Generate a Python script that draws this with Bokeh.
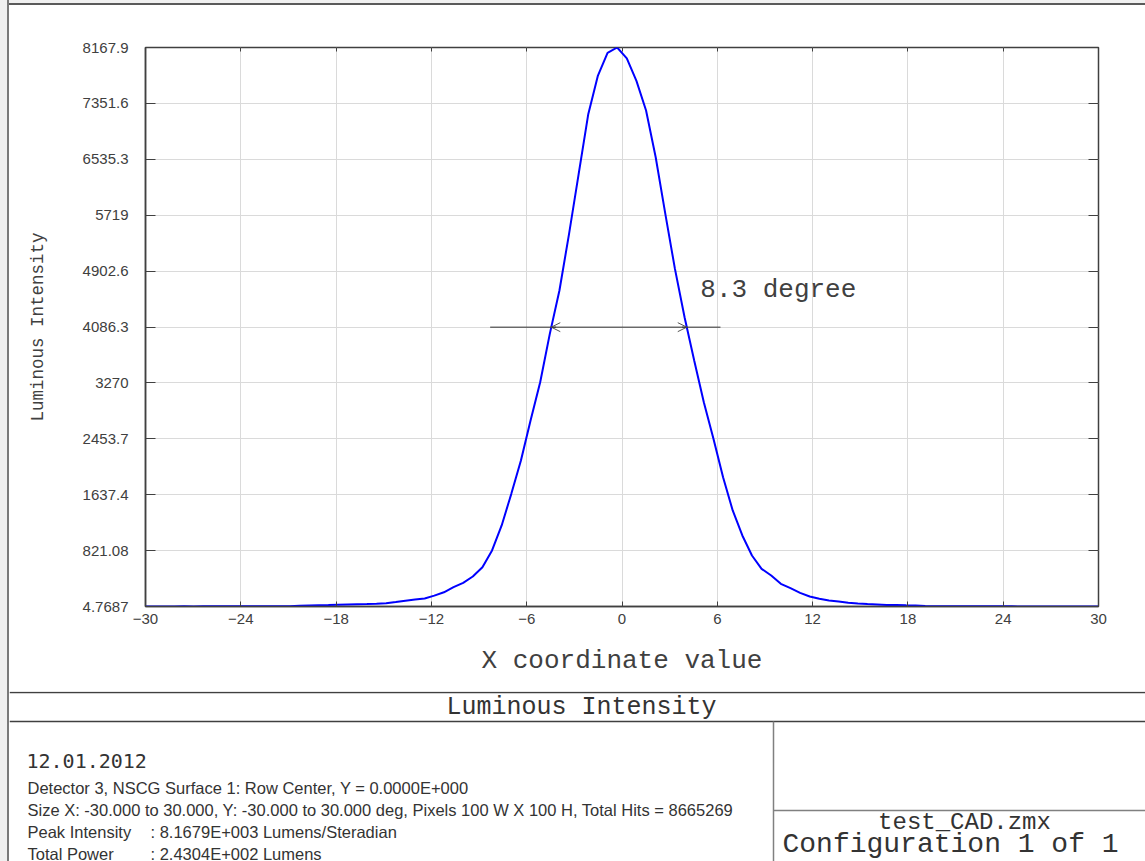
import numpy as np
from bokeh.plotting import figure
from bokeh.models import (Range1d, FixedTicker, LinearAxis, Arrow, OpenHead, Spacer,
                          CustomJSTickFormatter)
from bokeh.layouts import row, column
from bokeh.core.properties import value
from bokeh.embed import file_html
from bokeh.resources import INLINE

# ---------------- data ----------------
X_START, X_END, N_PIXELS = -30.0, 30.0, 100   # detector: -30..30 deg, 100 pixels

INTENSITY = [
    6, 6, 6, 6, 7, 6, 7, 7, 7, 7,
    8, 8, 8, 9, 9, 10, 15, 19, 22, 25,
    29, 33, 37, 40, 44, 52, 70, 90, 106, 122,
    164, 212, 287, 351, 443, 579, 823, 1188, 1650, 2137,
    2720, 3280, 3986, 4619, 5446, 6322, 7198, 7758, 8089, 8167.9,
    8010, 7680, 7247, 6565, 5738, 4935, 4229, 3597, 2988, 2453,
    1893, 1407, 1042, 750, 555, 458, 336, 272, 203, 151,
    117, 92, 78, 59, 49, 40, 35, 28, 26, 22,
    20, 12, 8, 8, 8, 7, 7, 7, 7, 7,
    7, 6, 6, 6, 6, 6, 6, 6, 6, 5,
]

X_TICKS = [-30, -24, -18, -12, -6, 0, 6, 12, 18, 24, 30]
Y_TICK_LABELS = ["4.7687", "821.08", "1637.4", "2453.7", "3270", "4086.3",
                 "4902.6", "5719", "6535.3", "7351.6", "8167.9"]

X_LABEL = "X coordinate value"
Y_LABEL = "Luminous Intensity"
TITLE = "Luminous Intensity"
FWHM_LABEL = "8.3 degree"
FWHM_LINE_X = [-8.3, 6.2]
DATE = "12.01.2012"
INFO_LINES = [
    "Detector 3, NSCG Surface 1: Row Center, Y = 0.0000E+000",
    "Size X: -30.000 to 30.000, Y: -30.000 to 30.000 deg, Pixels 100 W X 100 H, Total Hits = 8665269",
]
INFO_PAIRS = [
    ("Peak Intensity", ": 8.1679E+003 Lumens/Steradian"),
    ("Total Power", ": 2.4304E+002 Lumens"),
]
FILE_NAME = "test_CAD.zmx"
CONFIG = "Configuration 1 of 1"

# ---------------- derived ----------------
x = np.linspace(X_START, X_END, N_PIXELS)
y = np.array(INTENSITY, dtype=float)
y_ticks = [float(s) for s in Y_TICK_LABELS]

half = y.max() / 2.0
ipk = int(np.argmax(y))
il = max(i for i in range(ipk) if y[i] < half)
x_left = x[il] + (half - y[il]) / (y[il + 1] - y[il]) * (x[il + 1] - x[il])
ir = min(i for i in range(ipk, len(y)) if y[i] < half)
x_right = x[ir - 1] + (half - y[ir - 1]) / (y[ir] - y[ir - 1]) * (x[ir] - x[ir - 1])

DARK = "#404040"
TXT = "#333333"
MONO = "Liberation Mono"
PAGE_GRAY = "#f0f0f0"
EDGE_GRAY = "#7a7a7a"

# ---------------- main plot ----------------
p = figure(width=1136, height=686,
           x_range=Range1d(X_START, X_END), y_range=Range1d(y_ticks[0], y_ticks[-1]),
           output_backend="svg", toolbar_location=None,
           min_border_left=136, min_border_right=47, min_border_top=42, min_border_bottom=85,
           background_fill_color="white", border_fill_color="white",
           outline_line_color=DARK, outline_line_width=1.5)
p.frame_align = False

xt = FixedTicker(ticks=X_TICKS)
yt = FixedTicker(ticks=y_ticks)
p.xaxis.ticker = xt
p.yaxis.ticker = yt
p.xgrid.ticker = xt
p.ygrid.ticker = yt
p.yaxis.major_label_overrides = {t: s for t, s in zip(y_ticks, Y_TICK_LABELS)}

for ax in (p.xaxis[0], p.yaxis[0]):
    ax.axis_line_color = DARK
    ax.axis_line_width = 1.5
    ax.major_tick_line_color = DARK
    ax.major_tick_out = 0
    ax.minor_tick_line_color = None
    ax.major_label_text_font = "Liberation Sans"
    ax.major_label_text_font_size = "15px"
    ax.major_label_text_color = DARK
    ax.axis_label_text_font = MONO
    ax.axis_label_text_font_style = "normal"
    ax.axis_label_text_color = DARK

p.xaxis.major_tick_in = 5
p.yaxis.major_tick_in = 10
p.xaxis.major_label_standoff = 7
p.yaxis.major_label_standoff = 17
p.xaxis.axis_label = X_LABEL
p.yaxis.axis_label = Y_LABEL
p.xaxis.axis_label_text_font_size = "26px"
p.yaxis.axis_label_text_font_size = "17.5px"
p.xaxis.axis_label_standoff = 19
p.yaxis.axis_label_standoff = 32

blank = CustomJSTickFormatter(code="return ''")
top_ax = LinearAxis(ticker=xt, formatter=blank, major_tick_in=4, major_tick_out=0,
                    axis_line_color=None, major_tick_line_color=DARK,
                    minor_tick_line_color=None, major_label_text_font_size="1px")
right_ax = LinearAxis(ticker=yt, formatter=blank, major_tick_in=10, major_tick_out=0,
                      axis_line_color=None, major_tick_line_color=DARK,
                      minor_tick_line_color=None, major_label_text_font_size="1px")
p.add_layout(top_ax, "above")
p.add_layout(right_ax, "right")

p.xgrid.grid_line_color = "#dadada"
p.ygrid.grid_line_color = "#dadada"
p.xgrid.grid_line_width = 1
p.ygrid.grid_line_width = 1

p.line(x, y, line_color="#0000ff", line_width=2)

# FWHM marker
p.line(FWHM_LINE_X, [half, half], line_color="#303030", line_width=1)
for xs, xe in ((x_left + 0.3, x_left), (x_right - 0.3, x_right)):
    p.add_layout(Arrow(end=OpenHead(size=9, line_color="#555555", line_width=1),
                       x_start=xs, y_start=half, x_end=xe, y_end=half,
                       line_color="#303030", line_width=1))
p.text(x=[x_right + 0.85], y=[half + 548], text=[FWHM_LABEL],
       text_font=value(MONO), text_font_size="26px", text_color=DARK,
       text_baseline="middle", text_align="left")

# ---------------- bottom info box ----------------
b = figure(width=1136, height=170, x_range=Range1d(9, 1145), y_range=Range1d(861, 691),
           min_border=0, x_axis_type=None, y_axis_type=None, outline_line_color=None,
           toolbar_location=None, output_backend="svg",
           background_fill_color="white", border_fill_color="white")
b.frame_align = False
b.segment(x0=[9, 9], y0=[692, 721], x1=[1145, 1145], y1=[692, 721],
          line_color=DARK, line_width=1.5)
b.segment(x0=[773, 773], y0=[721, 810], x1=[773, 1145], y1=[861, 810],
          line_color="#808080", line_width=1.5)
b.text(x=[581], y=[707], text=[TITLE], text_font=value(MONO), text_font_size="25px",
       text_color=TXT, text_align="center", text_baseline="middle")
b.text(x=[26], y=[760], text=[DATE], text_font=value("DejaVu Sans Mono"),
       text_font_size="20px", text_color=TXT, text_baseline="middle")
SANS = value("Liberation Sans")
b.text(x=[27, 27], y=[787, 809], text=INFO_LINES, text_font=SANS,
       text_font_size="16.5px", text_color=TXT, text_baseline="alphabetic")
b.text(x=[27, 27], y=[831, 853], text=[k for k, _ in INFO_PAIRS], text_font=SANS,
       text_font_size="16.5px", text_color=TXT, text_baseline="alphabetic")
b.text(x=[150, 150], y=[831, 853], text=[v for _, v in INFO_PAIRS], text_font=SANS,
       text_font_size="16.5px", text_color=TXT, text_baseline="alphabetic")
b.text(x=[964], y=[822], text=[FILE_NAME], text_font=value(MONO), text_font_size="24px",
       text_color=TXT, text_align="center", text_baseline="middle")
b.text(x=[782], y=[844], text=[CONFIG], text_font=value(MONO), text_font_size="28px",
       text_color=TXT, text_align="left", text_baseline="middle")

# page frame (gray margin with a dark edge, as in the reference window)
left_pad = Spacer(width=7, height=861, styles={"background-color": PAGE_GRAY})
left_edge = Spacer(width=2, height=861, styles={"background-color": EDGE_GRAY})
top_pad = Spacer(width=1136, height=3, styles={"background-color": PAGE_GRAY})
top_edge = Spacer(width=1136, height=2, styles={"background-color": "#5a5a5a"})

layout = row(left_pad, left_edge, column(top_pad, top_edge, p, b, spacing=0), spacing=0)

open("out.html", "w").write(file_html(layout, INLINE))
